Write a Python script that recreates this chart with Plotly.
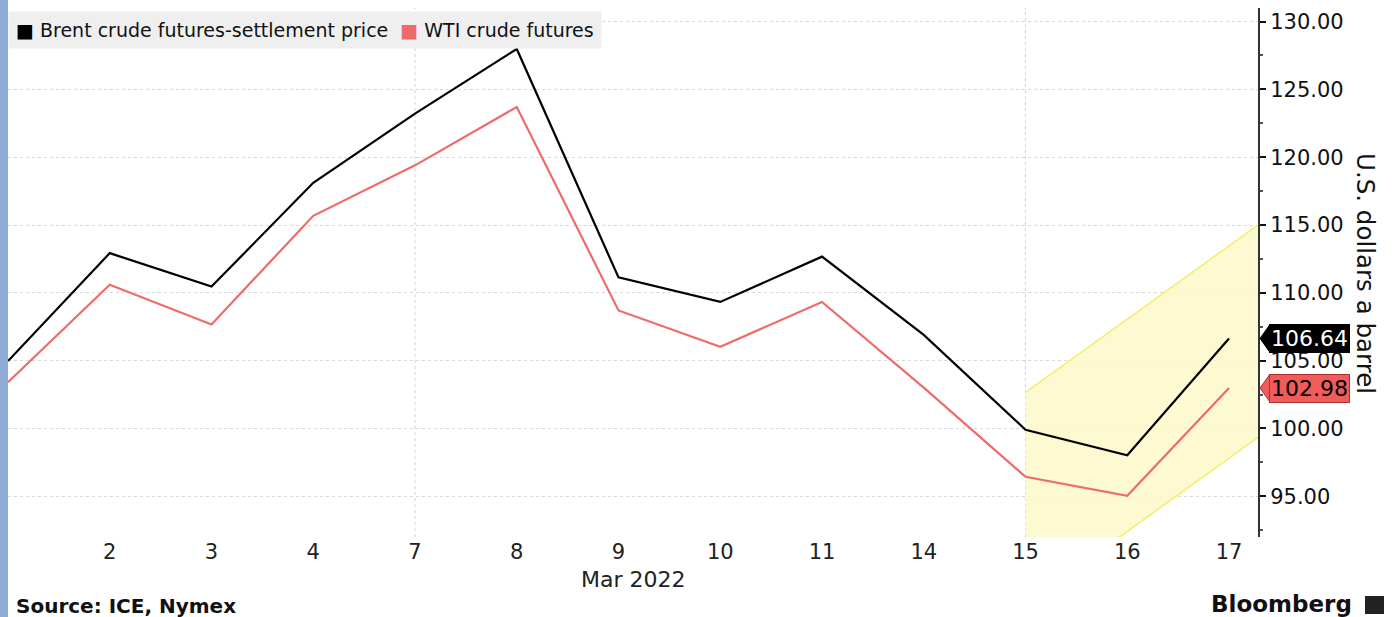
import plotly.graph_objects as go

# ---- data ----
dates = ["Mar 1", "Mar 2", "Mar 3", "Mar 4", "Mar 7", "Mar 8", "Mar 9",
         "Mar 10", "Mar 11", "Mar 14", "Mar 15", "Mar 16", "Mar 17"]
tick_labels = ["2", "3", "4", "7", "8", "9", "10", "11", "14", "15", "16", "17"]
brent = [104.97, 112.93, 110.46, 118.11, 123.21, 127.98, 111.14,
         109.33, 112.67, 106.90, 99.91, 98.02, 106.64]
wti = [103.41, 110.60, 107.67, 115.68, 119.40, 123.70, 108.70,
       106.02, 109.33, 103.01, 96.44, 95.04, 102.98]
# trend channel (index position, upper value, lower value)
channel_x = [10, 12.285]
channel_upper = [102.67, 115.0]
channel_lower = [87.0, 99.35]
week_grid = [4, 10]  # Mar 7, Mar 15

idx = list(range(len(dates)))
X_MAX = 12.285
Y_MIN, Y_MAX = 92.0, 131.0

BRENT_C = "#000000"
WTI_C = "#ef6b6b"
FONT = "DejaVu Sans"

fig = go.Figure()

# channel fill
fig.add_trace(go.Scatter(
    x=channel_x + channel_x[::-1],
    y=channel_upper + channel_lower[::-1],
    fill="toself", fillcolor="rgba(253,248,200,0.85)",
    line=dict(width=0), mode="lines", hoverinfo="skip", showlegend=False))
for arr in (channel_upper, channel_lower):
    fig.add_trace(go.Scatter(x=channel_x, y=arr, mode="lines",
                             line=dict(color="#f3ef6c", width=1.5),
                             hoverinfo="skip", showlegend=False))

fig.add_trace(go.Scatter(x=idx, y=wti, mode="lines", name="WTI crude futures",
                         line=dict(color=WTI_C, width=2.2), showlegend=False))
fig.add_trace(go.Scatter(x=idx, y=brent, mode="lines",
                         name="Brent crude futures-settlement price",
                         line=dict(color=BRENT_C, width=2.2), showlegend=False))

shapes = []
for g in week_grid:
    shapes.append(dict(type="line", xref="x", yref="paper", x0=g, x1=g, y0=0, y1=1,
                       line=dict(color="#d4d4d4", width=1, dash="dot"), layer="below"))

# left blue strip
plot_h = 529
shapes.append(dict(type="rect", xref="paper", yref="paper",
                   xsizemode="pixel", xanchor=0, x0=-8, x1=0,
                   y0=-(617 - 537) / plot_h, y1=1 + 8 / plot_h,
                   fillcolor="#8fadd6", line=dict(width=0), layer="above"))

annotations = []
# value tags
for val, bg, fg, bc in ((brent[-1], "#000000", "#ffffff", "#000000"),
                        (wti[-1], "#f05c5c", "#000000", "#b03030")):
    yfrac = (val - Y_MIN) / (Y_MAX - Y_MIN)
    shapes.append(dict(type="path", xref="paper", yref="paper",
                       xsizemode="pixel", ysizemode="pixel",
                       xanchor=1, yanchor=yfrac,
                       path="M2,0 L12,-14 L12,14 Z",
                       fillcolor=bg, line=dict(color=bc, width=1)))
    annotations.append(dict(xref="paper", yref="y", x=1, y=val, xanchor="left",
                            yanchor="middle", xshift=11, showarrow=False,
                            text=f"{val:.2f}", bgcolor=bg,
                            font=dict(family=FONT, size=22, color=fg),
                            borderpad=1, bordercolor=bc, borderwidth=1))

# axis title
annotations.append(dict(xref="paper", yref="paper", x=1 + 108 / 1250, y=1 - (273 - 8) / plot_h,
                        xanchor="center", yanchor="middle", showarrow=False,
                        text="U.S. dollars a barrel", textangle=90,
                        font=dict(family=FONT, size=24.5, color="#111111")))
# legend
annotations.append(dict(xref="paper", yref="paper", x=0, y=1 - (30 - 8) / plot_h,
                        xanchor="left", yanchor="middle", showarrow=False,
                        text=("<span style='color:#000000'>■</span> Brent crude futures-settlement price"
                              "  <span style='color:" + WTI_C + "'>■</span> WTI crude futures"),
                        bgcolor="#efefef", borderpad=7,
                        font=dict(family=FONT, size=19, color="#111111")))
# month label
annotations.append(dict(xref="paper", yref="paper", x=(633 - 8) / 1250,
                        y=-(579 - 537) / plot_h, xanchor="center", yanchor="middle",
                        showarrow=False, text="Mar 2022",
                        font=dict(family=FONT, size=22, color="#222222")))
annotations.append(dict(xref="paper", yref="paper", x=(14 - 8) / 1250,
                        y=-(606 - 537) / plot_h, xanchor="left", yanchor="middle",
                        showarrow=False, text="<b>Source: ICE, Nymex</b>",
                        font=dict(family=FONT, size=20, color="#111111")))
annotations.append(dict(xref="paper", yref="paper", x=(1354 - 8) / 1250,
                        y=-(604 - 537) / plot_h, xanchor="right", yanchor="middle",
                        showarrow=False, text="<b>Bloomberg</b>",
                        font=dict(family=FONT, size=23, color="#111111")))
# bloomberg icon
shapes.append(dict(type="rect", xref="paper", yref="paper",
                   x0=(1365 - 8) / 1250, x1=(1384 - 8) / 1250,
                   y0=-(614 - 537) / plot_h, y1=-(596 - 537) / plot_h,
                   fillcolor="#222222", line=dict(width=0)))

fig.update_layout(
    width=1400, height=617,
    margin=dict(l=8, r=142, t=8, b=80),
    paper_bgcolor="white", plot_bgcolor="white",
    showlegend=False,
    shapes=shapes, annotations=annotations,
    xaxis=dict(range=[0, X_MAX], tickvals=idx[1:], ticktext=tick_labels,
               showgrid=False, zeroline=False, showline=False, ticks="",
               tickfont=dict(family=FONT, size=21, color="#222222")),
    yaxis=dict(side="right", range=[Y_MIN, Y_MAX], dtick=5, tick0=0,
               tickformat=".2f", showgrid=True, gridcolor="#d8d8d8", griddash="dot",
               gridwidth=1, zeroline=False, showline=True, linecolor="#333333",
               linewidth=2, ticks="outside", ticklen=6, tickwidth=2,
               tickcolor="#111111",
               minor=dict(dtick=2.5, ticks="outside", ticklen=3, tickcolor="#555555"),
               tickfont=dict(family=FONT, size=21, color="#111111")),
)

fig.write_html("out.html")
